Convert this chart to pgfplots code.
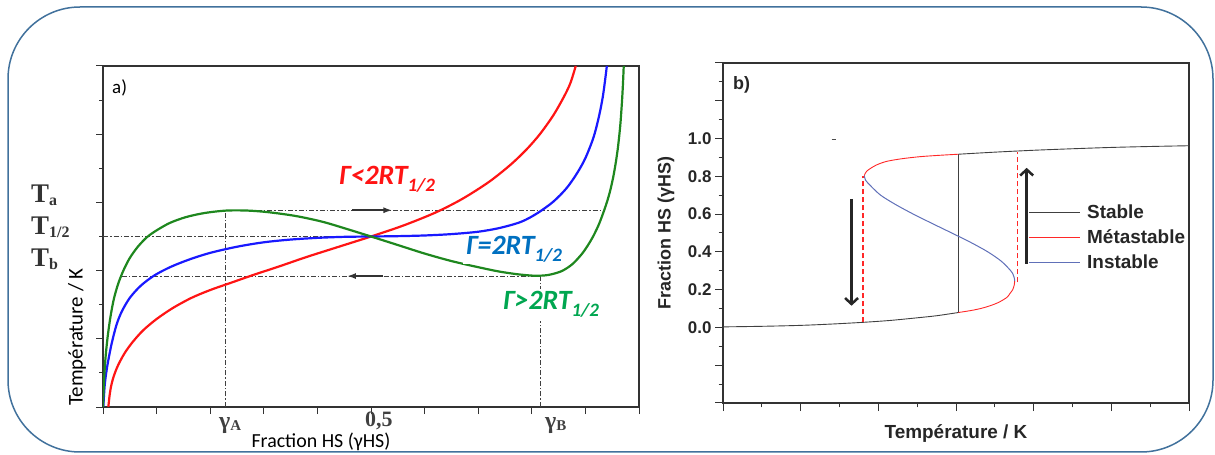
\documentclass[border=0pt]{standalone}
\usepackage{pgfplots}
\pgfplotsset{compat=1.18}
\usepackage{fontspec}
\setmainfont{Carlito}
\newfontfamily\arialfont{Liberation Sans}
\newfontfamily\timesfont{Liberation Serif}
\usetikzlibrary{arrows.meta}

\definecolor{frameblue}{RGB}{65,113,156}
\definecolor{cred}{RGB}{255,20,20}
\definecolor{cblue}{RGB}{25,25,255}
\definecolor{cgreen}{RGB}{30,135,30}
\definecolor{txtgreen}{RGB}{0,166,80}
\definecolor{txtblue}{RGB}{0,112,192}
\definecolor{instable}{RGB}{96,112,184}
\definecolor{metared}{RGB}{255,40,40}
\definecolor{dashred}{RGB}{255,40,40}

\pgfplotstableread{
x y
0.0 0.0
0.002 0.8
0.005 1.5
0.009 2.1
0.014 2.65
0.02 3.15
0.028 3.6
0.038 4.0
0.05 4.37
0.065 4.7
0.082 4.98
0.1 5.18
0.125 5.4
0.155 5.57
0.19 5.69
0.23 5.76
0.27 5.76
0.31 5.71
0.36 5.6
0.41 5.43
0.455 5.22
0.5 5.0
0.55 4.75
0.6 4.5
0.65 4.28
0.7 4.1
0.74 3.97
0.775 3.89
0.805 3.85
0.83 3.87
0.855 3.98
0.875 4.18
0.893 4.48
0.905 4.75
0.915 5.02
0.925 5.35
0.933 5.68
0.94 6.0
0.946 6.33
0.952 6.75
0.957 7.2
0.961 7.65
0.965 8.25
0.968 8.9
0.970 9.45
0.9715 10
}\greendata

\pgfplotstableread{
x y
0.0006 0
0.003 0.6
0.006 1.0
0.01 1.38
0.016 1.85
0.025 2.4
0.035 2.8
0.05 3.2
0.07 3.55
0.095 3.85
0.125 4.1
0.16 4.32
0.2 4.52
0.25 4.7
0.3 4.83
0.35 4.91
0.4 4.96
0.45 4.99
0.5 5.0
0.55 5.01
0.6 5.03
0.65 5.07
0.7 5.14
0.74 5.25
0.78 5.43
0.81 5.68
0.84 6.02
0.865 6.42
0.885 6.87
0.9 7.3
0.915 7.9
0.925 8.5
0.933 9.15
0.94 10
}\bluedata

\pgfplotstableread{
x y
0.01 0
0.012 0.3
0.015 0.6
0.02 0.9
0.028 1.22
0.04 1.57
0.055 1.9
0.075 2.25
0.1 2.58
0.13 2.9
0.165 3.2
0.2 3.43
0.24 3.65
0.28 3.87
0.33 4.13
0.38 4.4
0.44 4.7
0.5 5.0
0.56 5.32
0.62 5.7
0.67 6.1
0.72 6.6
0.76 7.1
0.79 7.55
0.815 8.0
0.84 8.55
0.86 9.1
0.872 9.5
0.882 10
}\reddata

\tikzset{dd/.style={black!75, line width=1.1bp, dash pattern=on 5bp off 2bp on 1.5bp off 2bp}}

\begin{document}
\begin{tikzpicture}
\path[use as bounding box] (0bp,0bp) rectangle (1215bp,455bp);
\draw[frameblue, line width=1.5bp, rounded corners=72bp] (8bp,3bp) rectangle (1213bp,448bp);

% ---------------- panel a
\begin{axis}[
  at={(103bp,48bp)}, anchor=south west, scale only axis,
  width=536bp, height=341bp,
  xmin=0, xmax=1, ymin=0, ymax=10,
  axis line style={black!80, line width=1.3bp},
  xtick={0,0.1,0.2,0.3,0.4,0.5,0.6,0.7,0.8,0.9,1},
  ytick={0,2,4,6,8,10}, minor ytick={1,3,5,7,9},
  xticklabels={}, yticklabels={},
  tick align=outside, tick pos=left,
  major tick length=7bp, minor tick length=4bp,
  every tick/.style={black!80, line width=1bp},
]
\addplot[dd] coordinates {(0,5.0) (0.5,5.0)};
\addplot[dd] coordinates {(0.228,5.77) (0.935,5.77)};
\addplot[dd] coordinates {(0.035,3.84) (0.817,3.84)};
\addplot[dd] coordinates {(0.228,0) (0.228,5.77)};
\addplot[dd] coordinates {(0.817,0) (0.817,3.84)};
\draw[black!80, line width=2bp, -{Latex[length=9bp,width=6bp]}] (axis cs:0.465,5.77) -- (axis cs:0.54,5.77);
\draw[black!80, line width=2bp, -{Latex[length=9bp,width=6bp]}] (axis cs:0.523,3.84) -- (axis cs:0.455,3.84);
\addplot[cred, line width=2.2bp, smooth] table {\reddata};
\addplot[cblue, line width=2.2bp, smooth] table {\bluedata};
\addplot[cgreen, line width=2.2bp, smooth] table {\greendata};
\end{axis}

% labels panel a
\node[anchor=base west, inner sep=0pt] at (112bp,361bp) {\fontsize{19}{19}\selectfont a)};
\node[anchor=base west, fill=white, inner xsep=3bp, inner ysep=3bp, text=cred] at (336bp,270bp)
  {\fontsize{28}{28}\selectfont\bfseries\itshape Γ<2RT\raisebox{-7bp}{\fontsize{19}{19}\selectfont 1/2}};
\node[anchor=base west, fill=white, inner xsep=3bp, inner ysep=1bp, text=txtblue] at (463bp,200bp)
  {\fontsize{28}{28}\selectfont\bfseries\itshape Γ=2RT\raisebox{-7bp}{\fontsize{19}{19}\selectfont 1/2}};
\node[anchor=base west, fill=white, inner xsep=3bp, inner ysep=3bp, text=txtgreen] at (500bp,145bp)
  {\fontsize{28}{28}\selectfont\bfseries\itshape Γ>2RT\raisebox{-7bp}{\fontsize{19}{19}\selectfont 1/2}};

\node[anchor=base west, inner sep=0pt, text=black!80] at (31bp,252bp) {\timesfont\bfseries\fontsize{27}{27}\selectfont T\raisebox{-3bp}{\fontsize{16}{16}\selectfont a}};
\node[anchor=base west, inner sep=0pt, text=black!80] at (31bp,220bp) {\timesfont\bfseries\fontsize{27}{27}\selectfont T\raisebox{-3bp}{\fontsize{16}{16}\selectfont 1/2}};
\node[anchor=base west, inner sep=0pt, text=black!80] at (31bp,188bp) {\timesfont\bfseries\fontsize{27}{27}\selectfont T\raisebox{-3bp}{\fontsize{16}{16}\selectfont b}};

\node[rotate=90, inner sep=0pt] at (77bp,118bp) {\fontsize{21}{21}\selectfont Température / K};
\node[inner sep=0pt, anchor=base] at (321bp,8bp) {\fontsize{20}{20}\selectfont Fraction HS (γHS)};

\node[anchor=base west, inner sep=0pt, text=black!75] at (219bp,27bp) {\timesfont\bfseries\fontsize{24}{24}\selectfont γ\raisebox{-2bp}{\fontsize{15}{15}\selectfont A}};
\node[anchor=base west, inner sep=0pt, text=black!75] at (365bp,29bp) {\timesfont\bfseries\fontsize{22}{22}\selectfont 0,5};
\node[anchor=base west, inner sep=0pt, text=black!75] at (545bp,27bp) {\timesfont\bfseries\fontsize{24}{24}\selectfont γ\raisebox{-2bp}{\fontsize{15}{15}\selectfont B}};

% ---------------- panel b
\begin{axis}[
  at={(723bp,52bp)}, anchor=south west, scale only axis,
  width=466bp, height=340bp,
  xmin=0, xmax=12, ymin=-0.4, ymax=1.4,
  axis line style={black!80, line width=1.2bp},
  xtick={0,2,4,6,8,10,12}, minor xtick={1,3,5,7,9,11},
  xticklabels={},
  ytick={0,0.2,0.4,0.6,0.8,1.0},
  minor ytick={-0.3,-0.1,0.1,0.3,0.5,0.7,0.9,1.1,1.3},
  extra y ticks={-0.4,-0.2,1.2,1.4}, extra y tick labels={},
  extra y tick style={tick align=outside, major tick length=8bp},
  yticklabel={\pgfmathprintnumber[fixed,fixed zerofill,precision=1,assume math mode=true]{\tick}},
  yticklabel style={font=\arialfont\bfseries\fontsize{17}{17}\selectfont, text=black!85},
  tick align=outside, tick pos=left,
  major tick length=8bp, minor tick length=4.5bp,
  every tick/.style={black!80, line width=1bp},
]
% stable branches
\addplot[black!75, line width=0.9bp, smooth] coordinates {(0,0.003) (1,0.006) (2,0.011) (2.8,0.018) (3.6,0.027) (4.3,0.037) (5.0,0.051) (5.5,0.062) (6.06,0.079)};
\addplot[black!75, line width=0.9bp, smooth] coordinates {(6.06,0.917) (7.0,0.928) (8,0.938) (9,0.946) (10,0.953) (11,0.958) (12,0.962)};
\addplot[black!75, line width=0.9bp] coordinates {(6.06,0.079) (6.06,0.917)};
% metastable
\addplot[metared, line width=0.9bp, smooth] coordinates {(6.06,0.079) (6.25,0.085) (6.45,0.092) (6.65,0.101) (6.88,0.115) (7.1,0.133) (7.31,0.159) (7.39,0.18) (7.46,0.2) (7.5,0.225) (7.51,0.245)};
\addplot[metared, line width=0.9bp, smooth] coordinates {(3.64,0.803) (3.66,0.815) (3.70,0.827) (3.79,0.841) (3.95,0.86) (4.21,0.879) (4.6,0.893) (5.07,0.904) (5.55,0.911) (6.06,0.917)};
% unstable
\addplot[instable, line width=1bp, smooth] coordinates {(7.51,0.245) (7.503,0.26) (7.47,0.28) (7.41,0.30) (7.17,0.35) (6.82,0.40) (6.38,0.45) (5.89,0.50) (5.39,0.55) (4.90,0.60) (4.45,0.65) (4.06,0.70) (3.80,0.75) (3.67,0.78) (3.64,0.803)};
% dashed jumps (metastable limits)
\draw[dashred, line width=1.4bp, dash pattern=on 5bp off 3bp] (axis cs:3.61,0.027) -- (axis cs:3.61,0.80);
\draw[dashred, line width=1.4bp, dash pattern=on 5bp off 3bp] (axis cs:7.58,0.238) -- (axis cs:7.58,0.931);
% arrows
\draw[black!85, line width=3bp, -{Straight Barb[length=6bp,width=13bp,line width=2.5bp]}] (axis cs:3.31,0.68) -- (axis cs:3.31,0.115);
\draw[black!85, line width=3bp, -{Straight Barb[length=6bp,width=13bp,line width=2.5bp]}] (axis cs:7.82,0.337) -- (axis cs:7.82,0.845);
\addplot[black!70, line width=0.8bp] coordinates {(2.80,0.997) (2.91,0.997)};
% legend
\addplot[black!75, line width=0.9bp] coordinates {(7.88,0.608) (9.19,0.608)};
\addplot[metared, line width=0.9bp] coordinates {(7.88,0.476) (9.19,0.476)};
\addplot[instable, line width=1.2bp] coordinates {(7.88,0.344) (9.19,0.344)};
\end{axis}

\node[anchor=base west, inner sep=0pt, text=black!85] at (733bp,365bp) {\arialfont\bfseries\fontsize{18}{18}\selectfont b)};
\node[anchor=west, inner sep=0pt, text=black!85] at (1087bp,243bp) {\arialfont\bfseries\fontsize{19}{19}\selectfont Stable};
\node[anchor=west, inner sep=0pt, text=black!85] at (1087bp,218bp) {\arialfont\bfseries\fontsize{19}{19}\selectfont Métastable};
\node[anchor=west, inner sep=0pt, text=black!85] at (1087bp,193bp) {\arialfont\bfseries\fontsize{19}{19}\selectfont Instable};
\node[rotate=90, inner sep=0pt, text=black!85] at (666bp,222bp) {\arialfont\bfseries\fontsize{18}{18}\selectfont Fraction HS (γHS)};
\node[anchor=base, inner sep=0pt, text=black!85] at (956bp,17bp) {\arialfont\bfseries\fontsize{19}{19}\selectfont Température / K};
\end{tikzpicture}
\end{document}
